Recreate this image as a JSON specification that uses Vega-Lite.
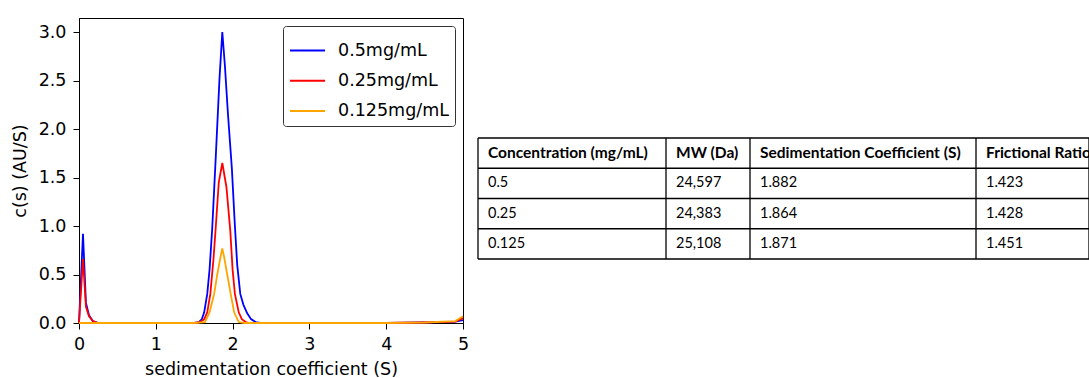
{
  "$schema": "https://vega.github.io/schema/vega-lite/v6.json",
  "background": "white",
  "padding": {"left": 10, "top": 17, "right": 0, "bottom": 0},
  "spacing": 7,
  "resolve": {"scale": {"color": "independent"}, "legend": {"color": "independent"}},
  "config": {
    "view": {"stroke": null},
    "axis": {
      "labelFont": "DejaVu Sans", "labelFontSize": 17.5, "labelColor": "black",
      "titleFont": "DejaVu Sans", "titleFontSize": 17.5, "titleFontWeight": "normal", "titleColor": "black",
      "domainColor": "black", "domainWidth": 1, "tickColor": "black", "tickWidth": 1, "tickSize": 6, "grid": false
    },
    "legend": {
      "labelFont": "DejaVu Sans", "labelFontSize": 17.5, "labelColor": "black"
    }
  },
  "datasets": {
    "curves": [
      {"conc": "0.5mg/mL", "s": 0, "c": 0},
      {"conc": "0.5mg/mL", "s": 0.052, "c": 0.92},
      {"conc": "0.5mg/mL", "s": 0.09, "c": 0.21},
      {"conc": "0.5mg/mL", "s": 0.13, "c": 0.08},
      {"conc": "0.5mg/mL", "s": 0.18, "c": 0.02},
      {"conc": "0.5mg/mL", "s": 0.25, "c": 0},
      {"conc": "0.5mg/mL", "s": 1.5, "c": 0},
      {"conc": "0.5mg/mL", "s": 1.56, "c": 0.01},
      {"conc": "0.5mg/mL", "s": 1.6, "c": 0.04},
      {"conc": "0.5mg/mL", "s": 1.63, "c": 0.11},
      {"conc": "0.5mg/mL", "s": 1.67, "c": 0.3},
      {"conc": "0.5mg/mL", "s": 1.7, "c": 0.55},
      {"conc": "0.5mg/mL", "s": 1.735, "c": 0.98},
      {"conc": "0.5mg/mL", "s": 1.78, "c": 1.7},
      {"conc": "0.5mg/mL", "s": 1.83, "c": 2.53},
      {"conc": "0.5mg/mL", "s": 1.866, "c": 3.0},
      {"conc": "0.5mg/mL", "s": 1.9, "c": 2.65},
      {"conc": "0.5mg/mL", "s": 1.94, "c": 2.15},
      {"conc": "0.5mg/mL", "s": 1.99, "c": 1.6},
      {"conc": "0.5mg/mL", "s": 2.03, "c": 1.0},
      {"conc": "0.5mg/mL", "s": 2.06, "c": 0.6},
      {"conc": "0.5mg/mL", "s": 2.1, "c": 0.3},
      {"conc": "0.5mg/mL", "s": 2.14, "c": 0.19},
      {"conc": "0.5mg/mL", "s": 2.19, "c": 0.1},
      {"conc": "0.5mg/mL", "s": 2.24, "c": 0.04},
      {"conc": "0.5mg/mL", "s": 2.3, "c": 0.01},
      {"conc": "0.5mg/mL", "s": 2.36, "c": 0},
      {"conc": "0.5mg/mL", "s": 4.0, "c": 0},
      {"conc": "0.5mg/mL", "s": 4.5, "c": 0.005},
      {"conc": "0.5mg/mL", "s": 4.9, "c": 0.015},
      {"conc": "0.5mg/mL", "s": 5.0, "c": 0.03},
      {"conc": "0.25mg/mL", "s": 0, "c": 0},
      {"conc": "0.25mg/mL", "s": 0.052, "c": 0.66},
      {"conc": "0.25mg/mL", "s": 0.09, "c": 0.17},
      {"conc": "0.25mg/mL", "s": 0.13, "c": 0.07},
      {"conc": "0.25mg/mL", "s": 0.18, "c": 0.02},
      {"conc": "0.25mg/mL", "s": 0.25, "c": 0},
      {"conc": "0.25mg/mL", "s": 1.5, "c": 0},
      {"conc": "0.25mg/mL", "s": 1.58, "c": 0.01},
      {"conc": "0.25mg/mL", "s": 1.63, "c": 0.04},
      {"conc": "0.25mg/mL", "s": 1.67, "c": 0.11},
      {"conc": "0.25mg/mL", "s": 1.71, "c": 0.3},
      {"conc": "0.25mg/mL", "s": 1.75, "c": 0.65},
      {"conc": "0.25mg/mL", "s": 1.78, "c": 0.98},
      {"conc": "0.25mg/mL", "s": 1.82, "c": 1.45},
      {"conc": "0.25mg/mL", "s": 1.866, "c": 1.65},
      {"conc": "0.25mg/mL", "s": 1.92, "c": 1.4},
      {"conc": "0.25mg/mL", "s": 1.97, "c": 0.95},
      {"conc": "0.25mg/mL", "s": 2.0, "c": 0.55},
      {"conc": "0.25mg/mL", "s": 2.03, "c": 0.3},
      {"conc": "0.25mg/mL", "s": 2.08, "c": 0.11},
      {"conc": "0.25mg/mL", "s": 2.12, "c": 0.04},
      {"conc": "0.25mg/mL", "s": 2.17, "c": 0.01},
      {"conc": "0.25mg/mL", "s": 2.22, "c": 0},
      {"conc": "0.25mg/mL", "s": 4.0, "c": 0},
      {"conc": "0.25mg/mL", "s": 4.5, "c": 0.005},
      {"conc": "0.25mg/mL", "s": 4.9, "c": 0.015},
      {"conc": "0.25mg/mL", "s": 5.0, "c": 0.05},
      {"conc": "0.125mg/mL", "s": 0, "c": 0},
      {"conc": "0.125mg/mL", "s": 1.5, "c": 0},
      {"conc": "0.125mg/mL", "s": 1.64, "c": 0.01},
      {"conc": "0.125mg/mL", "s": 1.7, "c": 0.11},
      {"conc": "0.125mg/mL", "s": 1.76, "c": 0.3},
      {"conc": "0.125mg/mL", "s": 1.8, "c": 0.5},
      {"conc": "0.125mg/mL", "s": 1.84, "c": 0.67},
      {"conc": "0.125mg/mL", "s": 1.866, "c": 0.77},
      {"conc": "0.125mg/mL", "s": 1.89, "c": 0.68},
      {"conc": "0.125mg/mL", "s": 1.93, "c": 0.5},
      {"conc": "0.125mg/mL", "s": 1.975, "c": 0.3},
      {"conc": "0.125mg/mL", "s": 2.02, "c": 0.11},
      {"conc": "0.125mg/mL", "s": 2.08, "c": 0.01},
      {"conc": "0.125mg/mL", "s": 2.15, "c": 0},
      {"conc": "0.125mg/mL", "s": 4.0, "c": 0},
      {"conc": "0.125mg/mL", "s": 4.5, "c": 0.005},
      {"conc": "0.125mg/mL", "s": 4.9, "c": 0.02},
      {"conc": "0.125mg/mL", "s": 5.0, "c": 0.07}
    ],
    "cells": [
      {"row": 0, "col": 0, "text": "Concentration (mg/mL)"},
      {"row": 0, "col": 1, "text": "MW (Da)"},
      {"row": 0, "col": 2, "text": "Sedimentation Coefficient (S)"},
      {"row": 0, "col": 3, "text": "Frictional Ratio"},
      {"row": 1, "col": 0, "text": "0.5"},
      {"row": 1, "col": 1, "text": "24,597"},
      {"row": 1, "col": 2, "text": "1.882"},
      {"row": 1, "col": 3, "text": "1.423"},
      {"row": 2, "col": 0, "text": "0.25"},
      {"row": 2, "col": 1, "text": "24,383"},
      {"row": 2, "col": 2, "text": "1.864"},
      {"row": 2, "col": 3, "text": "1.428"},
      {"row": 3, "col": 0, "text": "0.125"},
      {"row": 3, "col": 1, "text": "25,108"},
      {"row": 3, "col": 2, "text": "1.871"},
      {"row": 3, "col": 3, "text": "1.451"}
    ],
    "gridlines": [{"b": 0}, {"b": 1}, {"b": 2}, {"b": 3}, {"b": 4}]
  },
  "hconcat": [
    {
      "width": 384,
      "height": 305,
      "view": {"stroke": "black", "strokeWidth": 1},
      "data": {"name": "curves"},
      "encoding": {
        "x": {
          "field": "s", "type": "quantitative",
          "scale": {"domain": [0, 5], "nice": false, "zero": false},
          "axis": {"values": [0, 1, 2, 3, 4, 5], "format": "d", "title": "sedimentation coefficient (S)", "labelFlush": false, "labelPadding": 6, "titlePadding": 8}
        },
        "y": {
          "field": "c", "type": "quantitative",
          "scale": {"domain": [0, 3.145], "nice": false},
          "axis": {"values": [0, 0.5, 1, 1.5, 2, 2.5, 3], "format": ".1f", "title": "c(s) (AU/S)", "labelPadding": 7, "titlePadding": 9, "labelFlush": false}
        },
        "color": {
          "field": "conc", "type": "nominal",
          "scale": {"domain": ["0.5mg/mL", "0.25mg/mL", "0.125mg/mL"], "range": ["#0000ff", "#ff0000", "#ffa500"]},
          "legend": {
            "title": null, "orient": "top-right", "offset": 8,
            "symbolType": "stroke", "symbolSize": 1225, "symbolStrokeWidth": 2,
            "labelOffset": 12, "padding": 6, "rowPadding": 3.3,
            "strokeColor": "#333333", "fillColor": "white", "cornerRadius": 3
          }
        }
      },
      "layer": [
        {"transform": [{"filter": "datum.conc == '0.5mg/mL'"}], "mark": {"type": "line", "strokeWidth": 1.8}},
        {"transform": [{"filter": "datum.conc == '0.25mg/mL'"}], "mark": {"type": "line", "strokeWidth": 1.8}},
        {"transform": [{"filter": "datum.conc == '0.125mg/mL'"}], "mark": {"type": "line", "strokeWidth": 1.8}}
      ]
    },
    {
      "width": 611,
      "height": 305,
      "layer": [
        {
          "data": {"name": "gridlines"},
          "mark": {"type": "rule", "color": "black", "strokeWidth": 1.3},
          "encoding": {
            "y": {"field": "b", "type": "quantitative", "scale": {"domain": [0, 4], "range": [120, 241], "nice": false, "zero": false}, "axis": null}
          }
        },
        {
          "data": {"name": "gridlines"},
          "mark": {"type": "rule", "color": "black", "strokeWidth": 1.3},
          "encoding": {
            "x": {"field": "b", "type": "quantitative", "scale": {"domain": [0, 1, 2, 3, 4], "range": [0, 188, 272, 498, 611], "nice": false, "zero": false}, "axis": null},
            "y": {"datum": 0, "type": "quantitative"},
            "y2": {"datum": 4}
          }
        },
        {
          "data": {"name": "cells"},
          "transform": [{"filter": "datum.row == 0"}],
          "mark": {"type": "text", "align": "left", "baseline": "middle", "dx": 10, "dy": 15, "font": "Lato", "fontSize": 15.5, "fontWeight": "bold", "color": "black", "clip": true},
          "encoding": {
            "x": {"field": "col", "type": "quantitative"},
            "y": {"field": "row", "type": "quantitative"},
            "text": {"field": "text"}
          }
        },
        {
          "data": {"name": "cells"},
          "transform": [{"filter": "datum.row > 0"}],
          "mark": {"type": "text", "align": "left", "baseline": "middle", "dx": 10, "dy": 15, "font": "Lato", "fontSize": 14.5, "color": "black", "clip": true},
          "encoding": {
            "x": {"field": "col", "type": "quantitative"},
            "y": {"field": "row", "type": "quantitative"},
            "text": {"field": "text"}
          }
        }
      ]
    }
  ]
}
